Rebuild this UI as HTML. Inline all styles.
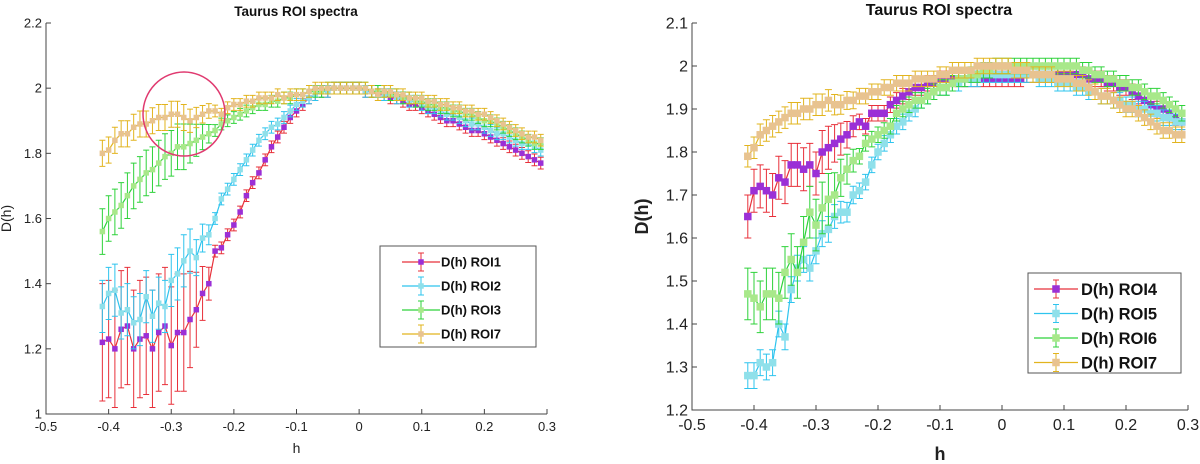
<!DOCTYPE html>
<html><head><meta charset="utf-8"><style>
html,body{margin:0;padding:0;background:#fff;}
svg{display:block;font-family:"Liberation Sans",sans-serif;}
</style></head><body>
<svg id="chart" width="1200" height="464" viewBox="0 0 1200 464"></svg>
<script>
const hValues = [];
for (let i = 0; i < 71; i++) hValues.push(Math.round((-0.41 + i * 0.01) * 100) / 100);

const roi1 = [1.22,1.23,1.20,1.26,1.27,1.20,1.23,1.24,1.20,1.25,1.27,1.21,1.25,1.25,
1.29,1.32,1.37,1.40,1.50,1.51,1.55,1.58,1.62,1.67,1.71,1.74,1.78,1.82,1.85,1.88,1.91,1.93,
1.95,1.97,1.98,1.99,1.99,2.0,2.0,2.0,2.0,2.0,
1.99,1.99,1.98,1.98,1.97,1.97,1.96,1.95,1.95,1.94,1.93,1.92,1.91,1.90,1.90,1.89,1.88,1.87,1.87,1.86,1.85,1.84,1.83,1.82,1.81,1.80,1.79,1.78,1.77];
const roi2 = [1.33,1.37,1.38,1.31,1.32,1.28,1.29,1.36,1.30,1.34,1.33,1.41,1.43,1.47,
1.50,1.48,1.54,1.55,1.60,1.66,1.69,1.72,1.75,1.78,1.81,1.84,1.86,1.88,1.89,1.91,1.93,1.95,
1.96,1.97,1.98,1.99,1.99,2.0,2.0,2.0,2.0,2.0,
1.99,1.99,1.99,1.98,1.98,1.97,1.97,1.96,1.96,1.95,1.94,1.94,1.93,1.92,1.92,1.91,1.90,1.89,1.89,1.88,1.87,1.86,1.86,1.85,1.84,1.83,1.83,1.82,1.81];
const roi3 = [1.56,1.60,1.62,1.64,1.67,1.70,1.72,1.74,1.75,1.77,1.79,1.80,1.82,1.82,
1.83,1.84,1.85,1.86,1.87,1.89,1.90,1.91,1.92,1.93,1.94,1.95,1.95,1.96,1.96,1.97,1.97,1.98,
1.98,1.99,1.99,1.99,2.0,2.0,2.0,2.0,2.0,2.0,
2.0,1.99,1.99,1.99,1.98,1.98,1.97,1.97,1.96,1.96,1.95,1.95,1.94,1.94,1.93,1.93,1.92,1.92,1.91,1.90,1.90,1.89,1.88,1.87,1.86,1.85,1.84,1.83,1.83];
const roi7a = [1.80,1.81,1.84,1.86,1.86,1.88,1.89,1.89,1.90,1.91,1.91,1.92,1.92,1.91,
1.90,1.91,1.92,1.93,1.93,1.92,1.94,1.95,1.95,1.96,1.96,1.97,1.97,1.97,1.98,1.97,1.98,1.98,
1.98,1.99,2.0,2.0,2.0,2.0,2.0,2.0,2.0,2.0,
2.0,1.99,1.98,1.99,1.99,1.98,1.98,1.97,1.97,1.97,1.96,1.96,1.95,1.95,1.94,1.94,1.93,1.93,1.92,1.92,1.91,1.90,1.89,1.88,1.87,1.86,1.85,1.85,1.84];
const roi4 = [1.65,1.71,1.72,1.71,1.70,1.74,1.73,1.77,1.77,1.76,1.77,1.75,1.80,1.81,
1.82,1.83,1.84,1.86,1.87,1.86,1.89,1.89,1.89,1.91,1.92,1.93,1.94,1.95,1.95,1.96,1.96,1.97,
1.97,1.97,1.97,1.97,1.97,1.97,1.97,1.97,1.97,1.97,
1.97,1.97,1.97,1.98,1.98,1.98,1.98,1.98,1.98,1.98,1.98,1.98,1.98,1.97,1.97,1.97,1.96,1.96,1.95,1.95,1.94,1.93,1.92,1.91,1.90,1.90,1.89,1.88,1.87];
const roi5 = [1.28,1.28,1.31,1.30,1.31,1.40,1.37,1.48,1.53,1.55,1.53,1.57,1.61,1.62,
1.65,1.66,1.66,1.70,1.71,1.73,1.77,1.80,1.82,1.84,1.86,1.87,1.89,1.90,1.92,1.93,1.94,1.95,
1.95,1.96,1.96,1.97,1.97,1.97,1.98,1.98,1.98,1.98,
1.98,1.98,1.98,1.98,1.98,1.97,1.97,1.97,1.96,1.96,1.96,1.95,1.95,1.94,1.94,1.93,1.93,1.92,1.92,1.91,1.91,1.90,1.90,1.89,1.89,1.88,1.88,1.87,1.87];
const roi6 = [1.47,1.46,1.44,1.47,1.47,1.46,1.52,1.55,1.52,1.59,1.66,1.63,1.67,1.69,
1.70,1.74,1.76,1.78,1.79,1.82,1.83,1.84,1.85,1.86,1.89,1.90,1.91,1.92,1.92,1.93,1.94,1.95,
1.95,1.96,1.97,1.97,1.98,1.98,1.99,1.99,2.0,2.0,
2.0,2.0,2.0,2.0,2.0,2.0,2.0,2.0,2.0,2.0,2.0,2.0,1.99,1.99,1.98,1.98,1.97,1.97,1.96,1.96,1.95,1.95,1.94,1.93,1.93,1.92,1.91,1.90,1.89];
const roi7b = [1.79,1.81,1.84,1.85,1.86,1.87,1.88,1.89,1.89,1.90,1.90,1.91,1.91,1.92,
1.91,1.91,1.92,1.92,1.93,1.93,1.94,1.94,1.95,1.95,1.96,1.96,1.96,1.97,1.97,1.97,1.97,1.98,
1.98,1.99,1.99,1.99,1.99,2.0,2.0,2.0,2.0,2.0,
2.0,1.99,1.99,1.99,1.98,1.98,1.98,1.98,1.97,1.97,1.97,1.96,1.96,1.95,1.94,1.93,1.93,1.92,1.91,1.90,1.90,1.89,1.88,1.87,1.86,1.85,1.85,1.84,1.84];

const err1Early = 0.18, err2Early = 0.08, err3Early = 0.07, err7aEarly = 0.04;
const err4Early = 0.05, err5Early = 0.03, err6Early = 0.06, err7bEarly = 0.025;
const errLate = 0.018;

const xTicks = [-0.5,-0.4,-0.3,-0.2,-0.1,0,0.1,0.2,0.3];
const xTickLabels = ["-0.5","-0.4","-0.3","-0.2","-0.1","0","0.1","0.2","0.3"];
const yTicksL = [1,1.2,1.4,1.6,1.8,2,2.2];
const yTickLabelsL = ["1","1.2","1.4","1.6","1.8","2","2.2"];
const yTicksR = [1.2,1.3,1.4,1.5,1.6,1.7,1.8,1.9,2,2.1];
const yTickLabelsR = ["1.2","1.3","1.4","1.5","1.6","1.7","1.8","1.9","2","2.1"];
const legendLabelsL = ["D(h) ROI1","D(h) ROI2","D(h) ROI3","D(h) ROI7"];
const legendLabelsR = ["D(h) ROI4","D(h) ROI5","D(h) ROI6","D(h) ROI7"];

const NS = "http://www.w3.org/2000/svg";
const svg = document.getElementById('chart');
function mk(tag, attrs, parent) {
  const e = document.createElementNS(NS, tag);
  for (const k in attrs) e.setAttribute(k, attrs[k]);
  (parent || svg).appendChild(e);
  return e;
}
function errArr(early) {
  const a = [];
  for (let i = 0; i < hValues.length; i++) {
    if (i < 14) a.push(early);
    else if (i < 18) a.push(errLate + (early - errLate) * (18 - i) / 5);
    else a.push(errLate);
  }
  return a;
}

const colors = [
  {line:"#e8303a", mark:"#9b2fd6"},
  {line:"#2ec4ee", mark:"#8fe0ea"},
  {line:"#2ed23a", mark:"#a8e88a"},
  {line:"#e2b41e", mark:"#e8c390"}
];

function panel(cfg) {
  const g = mk('g', {});
  
  
  const X = v => cfg.x0 + (v - cfg.xmin) / (cfg.xmax - cfg.xmin) * (cfg.x1 - cfg.x0);
  const Y = v => cfg.y1 - (v - cfg.ymin) / (cfg.ymax - cfg.ymin) * (cfg.y1 - cfg.y0);
  const ax = mk('path', {d:`M${cfg.x0},${cfg.y0}V${cfg.y1}H${cfg.x1}`, fill:'none', stroke:'#444', 'stroke-width':1}, g);
  
  
  xTicks.forEach((t, i) => {
    mk('line', {x1:X(t), x2:X(t), y1:cfg.y1, y2:cfg.y1-5, stroke:'#444'}, g);
    const tx = mk('text', {x:X(t), y:cfg.y1+cfg.fs+4, 'text-anchor':'middle', 'font-size':cfg.fs, fill:'#222'}, g);
    tx.textContent = xTickLabels[i];
    
    
  });
  cfg.yt.forEach((t, i) => {
    mk('line', {x1:cfg.x0, x2:cfg.x0+5, y1:Y(t), y2:Y(t), stroke:'#444'}, g);
    const tx = mk('text', {x:cfg.x0-4, y:Y(t)+cfg.fs*0.35, 'text-anchor':'end', 'font-size':cfg.fs, fill:'#222'}, g);
    tx.textContent = cfg.ytl[i];
    
    
  });
  const ti = mk('text', {x:cfg.tx, y:cfg.ty, 'text-anchor':'middle', 'font-size':cfg.tfs, 'font-weight':'bold', fill:'#111'}, g);
  ti.textContent = "Taurus ROI spectra";
  
  
  const xl = mk('text', {x:(cfg.x0+cfg.x1)/2, y:cfg.xly, 'text-anchor':'middle', 'font-size':cfg.lfs, 'font-weight':cfg.lw, fill:'#222'}, g);
  xl.textContent = "h";
  
  
  const ym = (cfg.y0+cfg.y1)/2;
  const yl = mk('text', {x:cfg.ylx, y:ym, 'text-anchor':'middle', 'font-size':cfg.lfs, 'font-weight':cfg.lw, fill:'#222', transform:`rotate(-90 ${cfg.ylx} ${ym})`}, g);
  yl.textContent = "D(h)";
  
  
  cfg.series.forEach((s, si) => {
    const c = colors[si];
    const sg = mk('g', {}, g);
    
    
    const cap = cfg.cap;
    let eb = '';
    s.vals.forEach((v, i) => {
      const x = X(hValues[i]), e = s.err[i];
      const yt = Y(v + e), yb = Y(v - e);
      eb += `M${x},${yt}V${yb}M${x-cap},${yt}H${x+cap}M${x-cap},${yb}H${x+cap}`;
    });
    mk('path', {d:eb, stroke:c.line, 'stroke-width':1, fill:'none'}, sg);
    const pts = s.vals.map((v, i) => X(hValues[i]).toFixed(1) + ',' + Y(v).toFixed(1)).join(' ');
    mk('polyline', {points:pts, fill:'none', stroke:c.line, 'stroke-width':1.2}, sg);
    const m = cfg.ms;
    s.vals.forEach((v, i) => {
      const r = mk('rect', {x:X(hValues[i])-m/2, y:Y(v)-m/2, width:m, height:m, fill:c.mark}, sg);
      
      
    });
  });
  const L = cfg.leg;
  const lg = mk('g', {}, g);
  
  
  mk('rect', {x:L.x, y:L.y, width:L.w, height:L.h, fill:'#fff', stroke:'#555', 'stroke-width':1}, lg);
  cfg.legend.forEach((lab, i) => {
    const c = colors[i];
    const yy = L.y + L.first + i * L.step;
    const eg = mk('g', {}, lg);
    
    
    mk('line', {x1:L.x+L.lx0, x2:L.x+L.lx1, y1:yy, y2:yy, stroke:c.line, 'stroke-width':1.3}, eg);
    const cx = L.x + (L.lx0+L.lx1)/2;
    mk('path', {d:`M${cx},${yy-9}V${yy+9}M${cx-3},${yy-9}H${cx+3}M${cx-3},${yy+9}H${cx+3}`, stroke:c.line, fill:'none'}, eg);
    mk('rect', {x:cx-cfg.ms/2, y:yy-cfg.ms/2, width:cfg.ms, height:cfg.ms, fill:c.mark}, eg);
    const t = mk('text', {x:L.x+L.tx, y:yy+L.fs*0.36, 'font-size':L.fs, 'font-weight':'bold', fill:'#111'}, eg);
    t.textContent = lab;
  });
}

panel({
  name:'left-panel', x0:46, x1:547, y0:23, y1:414, xmin:-0.5, xmax:0.3, ymin:1, ymax:2.2,
  yt:yTicksL, ytl:yTickLabelsL, fs:13, tfs:13.5, tx:296, ty:16, lfs:14, lw:'normal', xly:453, ylx:11,
  cap:3, ms:5.5, legend:legendLabelsL,
  series:[{vals:roi1, err:errArr(err1Early)},{vals:roi2, err:errArr(err2Early)},{vals:roi3, err:errArr(err3Early)},{vals:roi7a, err:errArr(err7aEarly)}],
  leg:{x:380, y:246, w:156, h:101, first:16, step:24, lx0:22, lx1:60, tx:61, fs:13}
});
panel({
  name:'right-panel', x0:692, x1:1188, y0:23, y1:410, xmin:-0.5, xmax:0.3, ymin:1.2, ymax:2.1,
  yt:yTicksR, ytl:yTickLabelsR, fs:16, tfs:16, tx:939, ty:15, lfs:18, lw:'bold', xly:460, ylx:648,
  cap:3.5, ms:7.5, legend:legendLabelsR,
  series:[{vals:roi4, err:errArr(err4Early)},{vals:roi5, err:errArr(err5Early)},{vals:roi6, err:errArr(err6Early)},{vals:roi7b, err:errArr(err7bEarly)}],
  leg:{x:1028, y:273, w:153, h:100, first:16, step:24.5, lx0:6, lx1:50, tx:53, fs:16.5}
});

const circ = mk('ellipse', {cx:184, cy:114, rx:41, ry:42, fill:'none', stroke:'#e03a70', 'stroke-width':1.5});


</script>
</body></html>
